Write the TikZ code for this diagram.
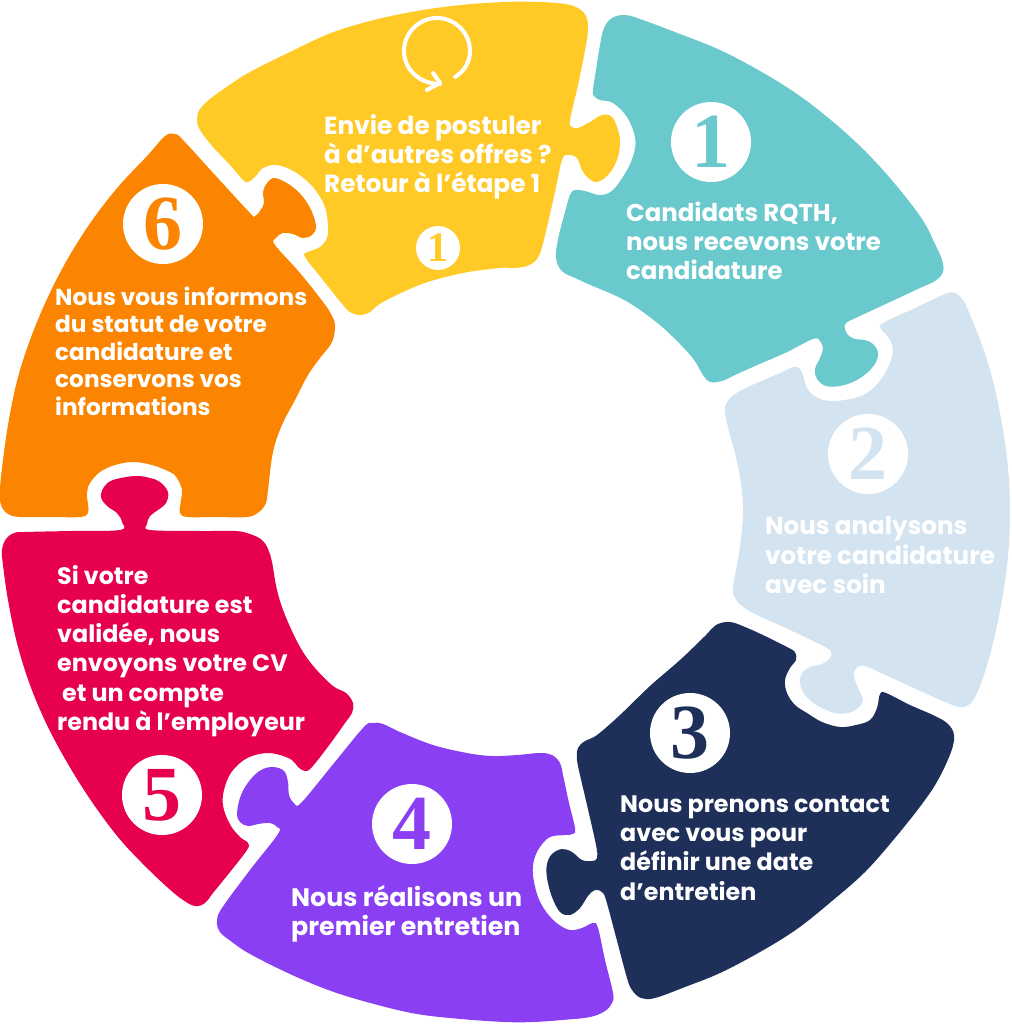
\documentclass[tikz,border=0pt]{standalone}
\usepackage{fontspec}
\newfontfamily\popfont{Poppins}
\newfontfamily\numfont{Liberation Serif}
\definecolor{jaune}{HTML}{FFC926}
\definecolor{turquoise}{HTML}{69C9CD}
\definecolor{ciel}{HTML}{D3E4F0}
\definecolor{marine}{HTML}{1E3059}
\definecolor{violet2}{HTML}{8A3FF3}
\definecolor{framboise}{HTML}{E6004F}
\definecolor{orange2}{HTML}{FB8500}
\tikzset{lbl/.style={anchor=west,align=left,inner sep=0pt,text=white,font=\popfont\bfseries\fontsize{#1}{29.2}\selectfont},
  num/.style={circle,fill=white,minimum size=80pt,inner sep=0pt,font=\numfont\bfseries\fontsize{78}{78}\selectfont},
  icon/.style={white,line width=4pt,line cap=round,line join=round}}
\begin{document}
\begin{tikzpicture}[x=1pt,y=-1pt]
\useasboundingbox (0,0) rectangle (1011,1024);
% pieces
\fill[jaune] plot[smooth cycle,tension=0.6] coordinates {(197,119) (200,109) (210,99) (228,86) (250,72) (290,52) (331,33) (374,20) (417,11) (461,5) (505,2) (540,2) (565,4) (578,8) (586,16) (588,28) (586,45) (578,85) (570,120) (572,127) (578,128) (590,122) (602,115) (612,117) (618,130) (620,143) (617,160) (608,175) (597,182) (588,178) (582,170) (577,158) (568,155) (562,160) (555,192) (547,227) (542,247) (537,259) (527,266) (513,268) (500,268) (463,273) (422,284) (383,302) (370,312) (360,315) (350,312) (343,305) (323,280) (305,257) (308,252) (320,247) (327,238) (328,227) (325,207) (313,187) (295,172) (277,165) (263,168) (255,177) (248,182) (243,180) (230,165) (213,147) (200,130)};
\fill[turquoise] plot[smooth cycle,tension=0.6] coordinates {(596,70) (600,45) (604,28) (612,18) (625,15) (640,19) (680,34) (720,50) (760,71) (797,94) (832,121) (865,151) (895,184) (922,219) (935,244) (942,260) (943,272) (935,281) (920,288) (890,302) (860,316) (846,323) (845,329) (848,335) (855,339) (865,340) (873,344) (878,352) (876,362) (868,372) (855,381) (840,386) (826,386) (817,379) (815,369) (820,358) (823,349) (820,341) (813,339) (785,353) (755,366) (735,375) (722,381) (710,382) (703,375) (691,356) (661,326) (626,301) (588,284) (575,278) (563,272) (557,263) (556,252) (559,235) (565,212) (570,195) (575,190) (585,191) (600,195) (613,190) (627,170) (634,153) (635,137) (627,117) (613,103) (600,100) (594,96) (593,90)};
\fill[ciel] plot[smooth cycle,tension=0.6] coordinates {(883,323) (915,308) (945,294) (955,293) (963,300) (968,310) (982,345) (993,381) (1002,424) (1008,468) (1010,512) (1008,556) (1002,600) (993,643) (984,675) (977,693) (970,704) (960,707) (945,702) (905,684) (870,668) (860,666) (855,670) (854,677) (859,690) (863,700) (858,708) (848,713) (835,713) (818,706) (805,695) (800,683) (802,673) (810,667) (822,664) (830,658) (831,652) (825,647) (790,630) (755,614) (742,606) (735,598) (733,587) (739,553) (743,512) (739,471) (729,431) (725,412) (727,402) (735,394) (750,386) (780,373) (793,367) (799,368) (803,375) (807,388) (816,397) (830,401) (850,399) (867,393) (882,378) (892,357) (892,345) (888,337) (881,329)};
\fill[marine] plot[smooth cycle,tension=0.6] coordinates {(730,622) (745,627) (765,636) (787,647) (795,652) (796,660) (790,668) (785,680) (787,693) (795,705) (807,713) (822,722) (840,727) (856,725) (870,720) (877,708) (880,694) (886,693) (910,705) (935,716) (948,724) (954,735) (951,752) (938,780) (922,804) (895,838) (865,872) (832,901) (797,929) (760,952) (720,973) (685,987) (655,998) (641,998) (632,990) (627,978) (616,937) (606,900) (602,892) (595,890) (588,896) (580,908) (570,915) (560,912) (552,897) (547,878) (547,864) (552,854) (562,849) (572,852) (582,860) (592,861) (597,858) (596,845) (587,805) (580,775) (577,760) (578,748) (585,741) (597,735) (620,715) (650,686) (680,660) (705,636) (716,625)};
\fill[violet2] plot[smooth cycle,tension=0.6] coordinates {(363,728) (372,723) (383,724) (400,732) (433,745) (467,753) (492,756) (517,755) (540,753) (552,755) (560,763) (563,775) (569,803) (575,828) (573,834) (565,835) (550,837) (540,847) (534,860) (533,875) (538,897) (547,913) (558,924) (570,930) (582,928) (593,923) (598,928) (605,960) (613,993) (612,1003) (605,1011) (590,1017) (562,1020) (533,1022) (505,1022) (461,1019) (417,1014) (374,1004) (331,991) (290,974) (250,954) (232,942) (220,932) (217,921) (222,908) (250,870) (278,834) (277,827) (270,823) (258,824) (248,826) (240,822) (237,813) (241,795) (250,780) (261,770) (273,767) (284,771) (288,782) (289,795) (294,803) (301,803) (330,768)};
\fill[framboise] plot[smooth cycle,tension=0.6] coordinates {(120,530) (122,522) (117,513) (107,506) (101,497) (104,487) (113,480) (135,476) (150,478) (160,482) (168,492) (166,503) (158,510) (150,516) (147,524) (150,530) (200,531) (235,531) (250,534) (262,540) (268,549) (272,562) (277,590) (285,615) (300,647) (315,668) (333,686) (346,693) (353,703) (352,713) (345,723) (330,744) (312,767) (305,771) (298,767) (292,760) (280,755) (267,753) (252,756) (240,763) (229,776) (223,795) (224,810) (231,826) (240,837) (248,843) (247,850) (230,872) (213,893) (205,903) (195,906) (183,900) (167,887) (142,863) (118,837) (92,802) (68,764) (47,725) (30,685) (17,643) (8,600) (3,565) (2,550) (6,539) (14,533) (25,532) (70,531)};
\fill[orange2] plot[smooth cycle,tension=0.6] coordinates {(165,136) (175,134) (183,140) (215,175) (250,213) (255,216) (260,211) (264,203) (263,192) (267,183) (275,178) (290,185) (303,197) (312,212) (316,227) (312,235) (303,238) (293,234) (283,233) (276,238) (275,245) (300,273) (323,302) (331,314) (335,325) (332,342) (320,358) (308,375) (295,400) (282,425) (273,452) (268,490) (266,503) (259,512) (247,517) (215,517) (188,517) (180,513) (181,500) (182,490) (177,478) (170,472) (152,465) (133,462) (115,465) (100,472) (90,483) (87,493) (88,505) (88,513) (80,517) (50,517) (20,517) (8,514) (1,505) (0,490) (2,468) (8,425) (17,381) (30,340) (47,299) (67,260) (91,222) (118,187) (148,155)};
% labels
\node[lbl=24.8] (txt0) at (324,157) {Envie de postuler\\à d’autres offres ?\\Retour à l’étape 1};
\node[lbl=24.4] (txt1) at (626,241) {Candidats RQTH,\\nous recevons votre\\candidature};
\node[lbl=24.6] (txt2) at (765,555) {Nous analysons\\votre candidature\\avec soin};
\node[lbl=23.8] (txt3) at (620,848) {Nous prenons contact\\avec vous pour\\définir une date\\d’entretien};
\node[lbl=25.3] (txt4) at (291,914) {Nous réalisons un\\premier entretien};
\node[lbl=23.8] (txt5) at (57,651) {Si votre\\candidature est\\validée, nous\\envoyons votre CV\\\hspace*{5pt}et un compte\\rendu à l’employeur};
\node[lbl=23.2] (txt6) at (55,351) {Nous vous informons\\[-1.6pt]du statut de votre\\[-1.6pt]candidature et\\[-1.6pt]conservons vos\\[-1.6pt]informations};
% numbers
\node[num,text=turquoise] (num1) at (711,142) {1};
\node[num,text=ciel] (num2) at (868,454) {2};
\node[num,text=marine] (num3) at (690,733) {3};
\node[num,text=violet2] (num4) at (412,824) {4};
\node[num,text=framboise] (num5) at (162,795) {5};
\node[num,text=orange2] (num6) at (163,224) {6};
\node[num,text=jaune,minimum size=44pt,font=\numfont\bfseries\fontsize{42}{42}\selectfont] (num0) at (438,248) {1};
% loop icon
\draw[icon] (455,77) .. controls (465,71) and (470,61) .. (470,51) .. controls (470,33) and (455,18) .. (437,18) .. controls (419,18) and (404,33) .. (404,51) .. controls (404,69) and (419,84) .. (440,84);
\draw[icon] (433,73) -- (440,83) -- (427,90);
\end{tikzpicture}
\end{document}
